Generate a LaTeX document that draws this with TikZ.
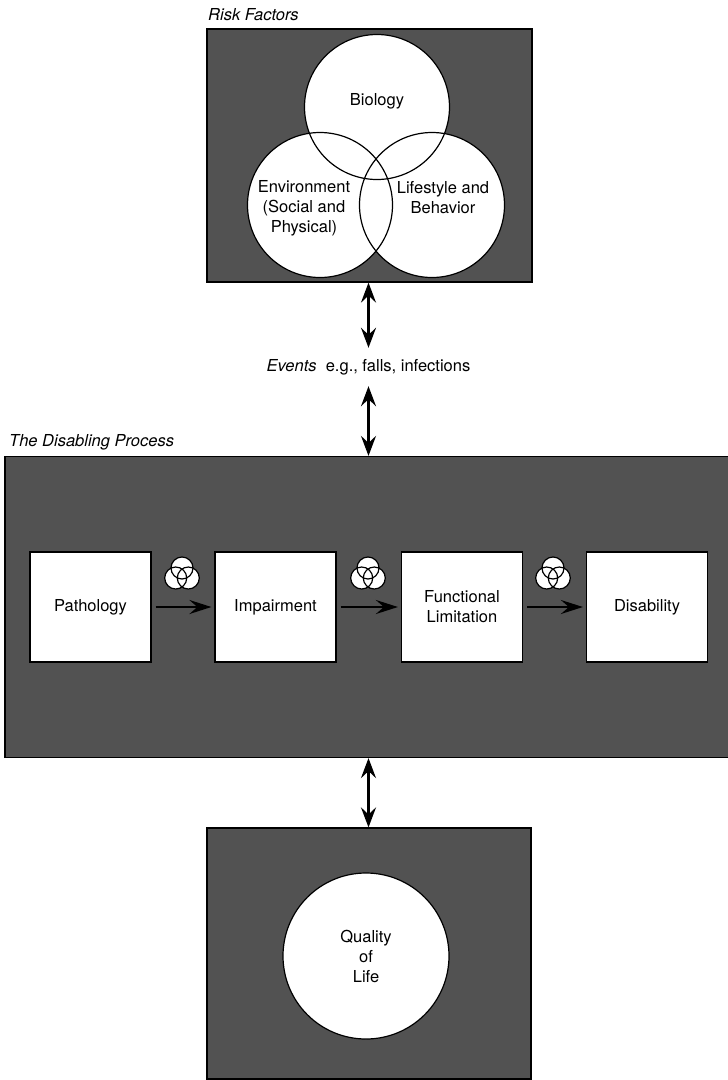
\documentclass[tikz,border=0pt]{standalone}
\usepackage{fontspec}
\setmainfont{TeX Gyre Heros}
\usetikzlibrary{arrows.meta, positioning}

\begin{document}
\begin{tikzpicture}[
    x=1pt, y=-1pt,
    every node/.style={font=\fontsize{16.5}{20}\selectfont},
    panel/.style={rectangle, draw, line width=1.2pt, fill=black!68, inner sep=0pt},
    stage/.style={rectangle, draw, line width=1.2pt, fill=white, minimum width=121pt, minimum height=110pt, align=center, inner sep=0pt},
    factor/.style={circle, fill=white, minimum size=145pt, inner sep=0pt},
    caption/.style={font=\fontsize{16.5}{20}\selectfont\itshape, inner sep=0pt},
    dblarrow/.style={{Stealth[length=20pt,width=15pt,inset=7pt]}-{Stealth[length=20pt,width=15pt,inset=7pt]}, line width=2.2pt},
    arrow/.style={-{Stealth[length=22pt,width=14pt,inset=8pt]}, line width=2.2pt, shorten <=4pt, shorten >=3pt},
    venn/.pic={
        \foreach \p in {(0,-5),(-6.3,5),(6.3,5)} \fill[white] \p circle (11);
        \foreach \p in {(0,-5),(-6.3,5),(6.3,5)} \draw[line width=1.2pt] \p circle (11);
    }
]
    \useasboundingbox (0,0) rectangle (728,1080);

    % Risk factors
    \node[panel, minimum width=325pt, minimum height=253pt] (risk) at (369.5,155.5) {};
    \node[caption, anchor=base west] (risklabel) at (208,20) {Risk Factors};
    \node[factor] (bio) at (377,107) {};
    \node[factor] (env) at (320,205) {};
    \node[factor] (life) at (432,205) {};
    \foreach \c in {bio, env, life}
        \draw[line width=1.2pt] (\c.center) circle (72.5);
    \node[align=center] (biotext) at (377,101) {Biology};
    \node[align=center] (envtext) at (304,208) {Environment\\(Social and\\Physical)};
    \node[align=center] (lifetext) at (443,198) {Lifestyle and\\Behavior};

    % Events
    \node[minimum height=38pt, inner sep=0pt] (events) at (368.5,367) {\textit{Events}\ \ e.g., falls, infections};

    % The disabling process
    \node[caption, anchor=base west] (proclabel) at (9,446) {The Disabling Process};
    \node[panel, minimum width=730pt, minimum height=301pt] (process) at (370,607) {};
    \node[stage] (patho) at (90.5,607) {Pathology};
    \node[stage] (impair) at (275.5,607) {Impairment};
    \node[stage] (funclim) at (462,607) {Functional\\Limitation};
    \node[stage] (disab) at (647,607) {Disability};
    \draw[arrow] (patho) -- (impair);
    \draw[arrow] (impair) -- (funclim);
    \draw[arrow] (funclim) -- (disab);
    \pic (vennA) at (182,573) {venn};
    \pic (vennB) at (368,573) {venn};
    \pic (vennC) at (553,573) {venn};

    % Quality of life
    \node[panel, minimum width=324pt, minimum height=251pt] (qolpanel) at (369,953.5) {};
    \node[factor, draw, line width=1.2pt, minimum size=166pt, align=center] (qol) at (366,956) {Quality\\of\\Life};

    % Arrows
    \draw[dblarrow] (risk.south -| events) -- (events.north);
    \draw[dblarrow] (events.south) -- (events.south |- process.north);
    \draw[dblarrow] (events.south |- process.south) -- (events.south |- qolpanel.north);
\end{tikzpicture}
\end{document}
